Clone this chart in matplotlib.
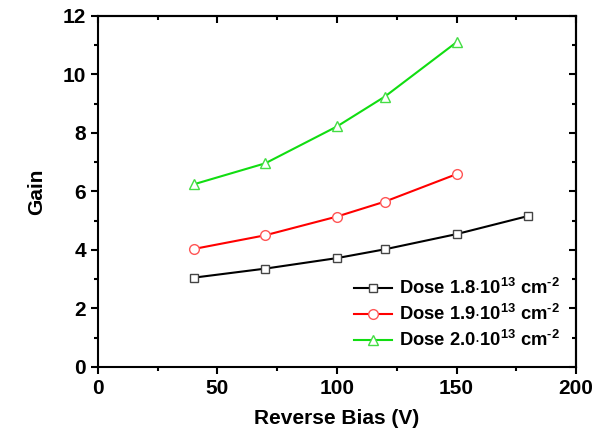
import matplotlib.pyplot as plt
from matplotlib.ticker import MultipleLocator

plt.rcParams['font.family'] = ['Liberation Sans', 'DejaVu Sans']
plt.rcParams['font.weight'] = 'bold'
plt.rcParams['mathtext.fontset'] = 'custom'
plt.rcParams['mathtext.rm'] = 'Liberation Sans:bold'
plt.rcParams['mathtext.bf'] = 'Liberation Sans:bold'
plt.rcParams['mathtext.default'] = 'bf'

# Data
bias_18 = [40, 70, 100, 120, 150, 180]
gain_18 = [3.05, 3.36, 3.72, 4.02, 4.54, 5.16]

bias_19 = [40, 70, 100, 120, 150]
gain_19 = [4.03, 4.50, 5.14, 5.65, 6.59]

bias_20 = [40, 70, 100, 120, 150]
gain_20 = [6.24, 6.96, 8.22, 9.24, 11.10]

labels = [r'Dose 1.8$\cdot$10$^{13}$ cm$^{\text{-}2}$',
          r'Dose 1.9$\cdot$10$^{13}$ cm$^{\text{-}2}$',
          r'Dose 2.0$\cdot$10$^{13}$ cm$^{\text{-}2}$']

fig = plt.figure(figsize=(5.97, 4.41), dpi=100)
ax = fig.add_axes([0.164, 0.168, 0.801, 0.796])

ax.plot(bias_18, gain_18, '-', color='black', marker='s', ms=6, mfc='white',
        mec='#444444', mew=1.0, lw=1.5, label=labels[0])
ax.plot(bias_19, gain_19, '-', color='red', marker='o', ms=7, mfc='white',
        mec='#ff5555', mew=1.0, lw=1.5, label=labels[1])
ax.plot(bias_20, gain_20, '-', color='#11dd11', marker='^', ms=7.5, mfc='white',
        mec='#44dd44', mew=1.0, lw=1.5, label=labels[2])

ax.set_xlim(0, 200)
ax.set_ylim(0, 12)
ax.xaxis.set_major_locator(MultipleLocator(50))
ax.xaxis.set_minor_locator(MultipleLocator(25))
ax.yaxis.set_major_locator(MultipleLocator(2))
ax.yaxis.set_minor_locator(MultipleLocator(1))

for s in ax.spines.values():
    s.set_linewidth(1.5)

ax.tick_params(which='both', direction='out', width=1.5, labelsize=15, top=False, right=False)
ax.tick_params(which='major', length=5)
ax.tick_params(which='minor', length=3)

# inward ticks on top and right spines
ax2 = ax.secondary_xaxis('top')
ax2.xaxis.set_major_locator(MultipleLocator(50))
ax2.xaxis.set_minor_locator(MultipleLocator(25))
ax2.tick_params(which='both', direction='in', width=1.5, labeltop=False)
ax2.tick_params(which='major', length=5)
ax2.tick_params(which='minor', length=3)
ax3 = ax.secondary_yaxis('right')
ax3.yaxis.set_major_locator(MultipleLocator(2))
ax3.yaxis.set_minor_locator(MultipleLocator(1))
ax3.tick_params(which='both', direction='in', width=1.5, labelright=False)
ax3.tick_params(which='major', length=5)
ax3.tick_params(which='minor', length=3)
ax2.spines['top'].set_linewidth(1.5)
ax3.spines['right'].set_linewidth(1.5)

ax.set_xlabel('Reverse Bias (V)', fontsize=15, fontweight='bold', labelpad=8)
ax.set_ylabel('Gain', fontsize=15, fontweight='bold', labelpad=12)

ax.legend(loc='lower right', bbox_to_anchor=(1.0, 0.0), frameon=False,
          fontsize=13.2, handlelength=2.1, labelspacing=0.32, handletextpad=0.35)

fig.savefig('out.png', dpi=100)
